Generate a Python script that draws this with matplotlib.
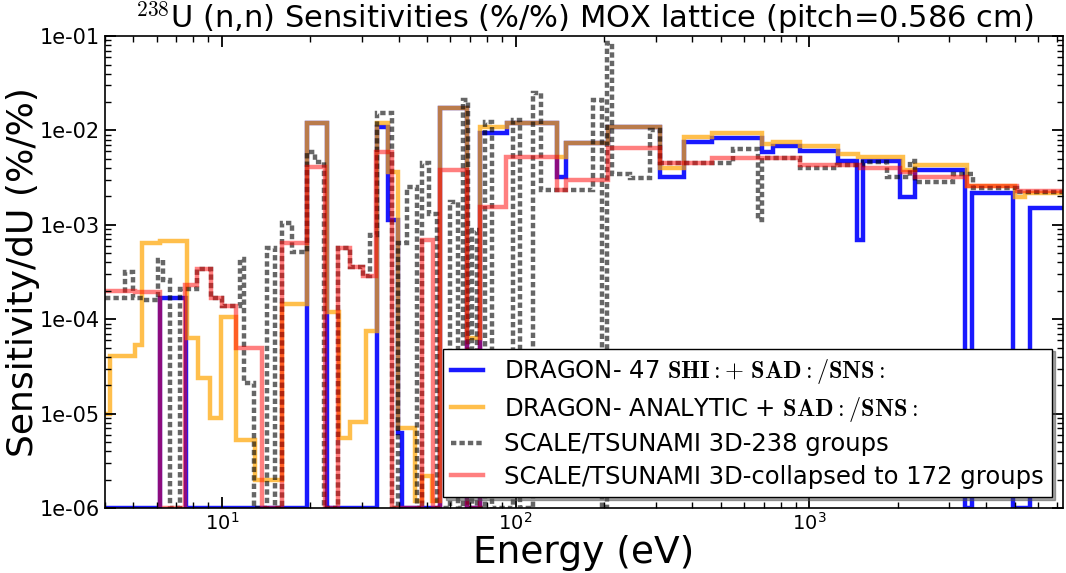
import matplotlib
matplotlib.use("Agg")
import matplotlib.pyplot as plt
from matplotlib.ticker import FuncFormatter

plt.rcParams['mathtext.fontset'] = 'cm'

# DRAGON 47 groups, SHI + SAD/SNS
blue_edges = [4.0, 6.15, 7.55, 19.5, 22.8, 33.7, 36.7, 39.7, 41.0, 55.2, 68.2, 75.5, 93.3, 138, 149, 206,
              310, 374, 466, 689, 751, 929, 1251, 1452, 1521, 2032, 2286, 3378, 3570, 4929, 5623, 7300]
blue_vals = [1e-6, 1.7e-4, 1e-6, 1.2e-2, 1e-6, 1.1e-2, 1.12e-3, 6.3e-6, 1e-6, 1.72e-2, 1e-6, 9.4e-3,
             1.2e-2, 3.2e-3, 7.3e-3, 1.1e-2, 3.2e-3, 7.5e-3, 8.3e-3, 5.9e-3, 6.8e-3, 6.0e-3, 4.8e-3,
             6.9e-4, 4.7e-3, 1.96e-3, 3.8e-3, 1e-6, 2.16e-3, 1e-6, 1.5e-3]

# DRAGON analytic + SAD/SNS
orange_edges = [4.0, 4.16, 5.06, 5.34, 6.15, 7.60, 8.29, 9.10, 9.93, 11.2, 13.0, 16.0, 19.5, 22.8, 25.0,
                27.3, 30.9, 33.7, 36.7, 39.7, 45.4, 48.0, 51.9, 55.2, 68.2, 75.5, 93.3, 138, 149, 206,
                310, 374, 466, 689, 751, 929, 1251, 1463, 2080, 2286, 3433, 5004, 5408, 7300]
orange_vals = [1.0e-5, 4.1e-5, 5.3e-5, 6.4e-4, 6.7e-4, 6.4e-5, 2.4e-5, 8.9e-6, 1.05e-4, 5.2e-6, 2.0e-6,
               1.44e-4, 1.2e-2, 1.18e-4, 5.5e-6, 8.1e-6, 7.6e-5, 1.2e-2, 3.6e-3, 7.0e-6, 1.2e-6, 2.2e-6,
               1.2e-6, 1.72e-2, 6.4e-5, 1.08e-2, 1.2e-2, 5.2e-3, 7.3e-3, 1.1e-2, 4.0e-3, 8.5e-3, 9.35e-3,
               7.2e-3, 7.5e-3, 6.8e-3, 5.7e-3, 5.2e-3, 3.8e-3, 4.3e-3, 2.6e-3, 1.96e-3, 2.16e-3]

# SCALE/TSUNAMI 238 groups
grey_edges = [4.0, 4.68, 4.98, 5.38, 6.05, 6.30, 6.65, 7.19, 8.22, 9.18,
              10.0, 11.5, 11.9, 12.9, 14.2, 15.2, 16.0, 17.3, 19.5, 20.7,
              22.2, 24.8, 27.3, 30.2, 31.9, 33.7, 37.9, 39.7, 42.7, 46.1,
              48.0, 50.7, 54.0, 59.7, 63.6, 66.1, 68.7, 70.9, 73.8, 78.5,
              82.9, 97.9, 103.5, 114.6, 122, 183, 197, 205, 213, 245,
              287, 310, 549, 668, 689, 929, 1242, 1521, 1836, 2198,
              2286, 3077, 3597, 5082, 7300]
grey_vals = [1.67e-4, 3.15e-4, 1.7e-4, 1.6e-4, 4.2e-4, 2.6e-4, 1e-6, 2.1e-4, 3.4e-4, 1.7e-4,
             1.37e-4, 4.4e-4, 2.1e-5, 1e-6, 5.65e-4, 1e-6, 1.04e-3, 5.1e-4, 5.9e-3, 4.6e-3,
             1e-6, 5.65e-4, 3.55e-4, 2.9e-4, 7.8e-4, 1.52e-2, 1e-6, 6.4e-4, 2.5e-3, 1e-6,
             4.5e-3, 1.3e-3, 1e-6, 1.74e-3, 1e-6, 2.09e-2, 1e-6, 8.8e-4, 1e-6, 1.22e-2,
             1e-6, 1.29e-2, 1e-6, 2.49e-2, 2.33e-3, 2.09e-2, 1e-6, 8.4e-2, 3.5e-3, 3.1e-3,
             1.01e-2, 4.5e-3, 6.3e-3, 1.12e-3, 5.1e-3, 4.0e-3, 4.3e-3, 4.6e-3, 3.2e-3, 4.8e-3,
             2.83e-3, 3.5e-3, 2.45e-3, 2.22e-3]

# SCALE/TSUNAMI collapsed to 172 groups
red_edges = [4.0, 5.06, 6.15, 7.48, 8.22, 9.18, 10.0, 11.2, 13.7, 16.0, 19.5, 22.4, 24.8, 27.3, 30.2,
             33.4, 37.9, 48.0, 52.3, 55.2, 68.2, 75.5, 92.6, 138, 149, 206, 310, 466, 929, 1486, 2032,
             2286, 3433, 5082, 7300]
red_vals = [2.0e-4, 1.93e-4, 1e-6, 2.3e-4, 3.4e-4, 1.7e-4, 1.37e-4, 5.0e-5, 1e-6, 6.4e-4, 4.1e-3, 1e-6,
            5.65e-4, 3.55e-4, 2.9e-4, 5.9e-3, 1e-6, 6.9e-4, 1e-6, 3.8e-3, 1e-6, 1.54e-3, 5.2e-3, 2.33e-3,
            3.0e-3, 6.5e-3, 4.5e-3, 5.1e-3, 4.3e-3, 4.0e-3, 3.6e-3, 3.2e-3, 2.6e-3, 2.27e-3]

fig = plt.figure(figsize=(10.66, 5.73), dpi=100)
ax = fig.add_axes([0.0985, 0.1134, 0.8985, 0.8236])

LW = 3.2
ax.stairs(blue_vals, blue_edges, baseline=None, color='blue', alpha=0.9, lw=LW,
          label=r"DRAGON- 47 $\bf{SHI:+\ SAD:/SNS:}$")
ax.stairs(orange_vals, orange_edges, baseline=None, color='orange', alpha=0.7, lw=LW,
          label=r"DRAGON- ANALYTIC + $\bf{SAD:/SNS:}$")
ax.stairs(grey_vals, grey_edges, baseline=None, color='k', alpha=0.6, lw=LW,
          linestyle=(0, (1.2, 0.7)), label="SCALE/TSUNAMI 3D-238 groups")
ax.stairs(red_vals, red_edges, baseline=None, color='red', alpha=0.5, lw=LW,
          label="SCALE/TSUNAMI 3D-collapsed to 172 groups")

ax.set_xscale('log')
ax.set_yscale('log')
ax.set_xlim(4.0, 7300)
ax.set_ylim(1e-6, 1e-1)
ax.yaxis.set_major_formatter(FuncFormatter(lambda v, p: '%.0e' % v))

ax.tick_params(which='both', direction='in', top=True, right=True)
ax.tick_params(axis='y', labelsize=15)
ax.tick_params(axis='x', labelsize=14, pad=3)
ax.tick_params(which='major', length=8, width=1.3)
ax.tick_params(which='minor', length=4, width=1)
for s in ax.spines.values():
    s.set_linewidth(1.2)

ax.set_xlabel("Energy (eV)", fontsize=27, labelpad=1)
ax.set_ylabel("Sensitivity/dU (%/%)", fontsize=26, labelpad=0)
ax.set_title(r"$^{238}$U (n,n) Sensitivities (%/%) MOX lattice (pitch=0.586 cm)", fontsize=22, pad=3)

leg = ax.legend(loc='lower right', fontsize=17.5, fancybox=False, shadow=True, framealpha=1,
                edgecolor='k', borderaxespad=0.45, handlelength=1.3, handletextpad=0.85,
                labelspacing=0.35, borderpad=0.35)
leg.get_frame().set_linewidth(1.0)

fig.savefig("out.png", dpi=100)
